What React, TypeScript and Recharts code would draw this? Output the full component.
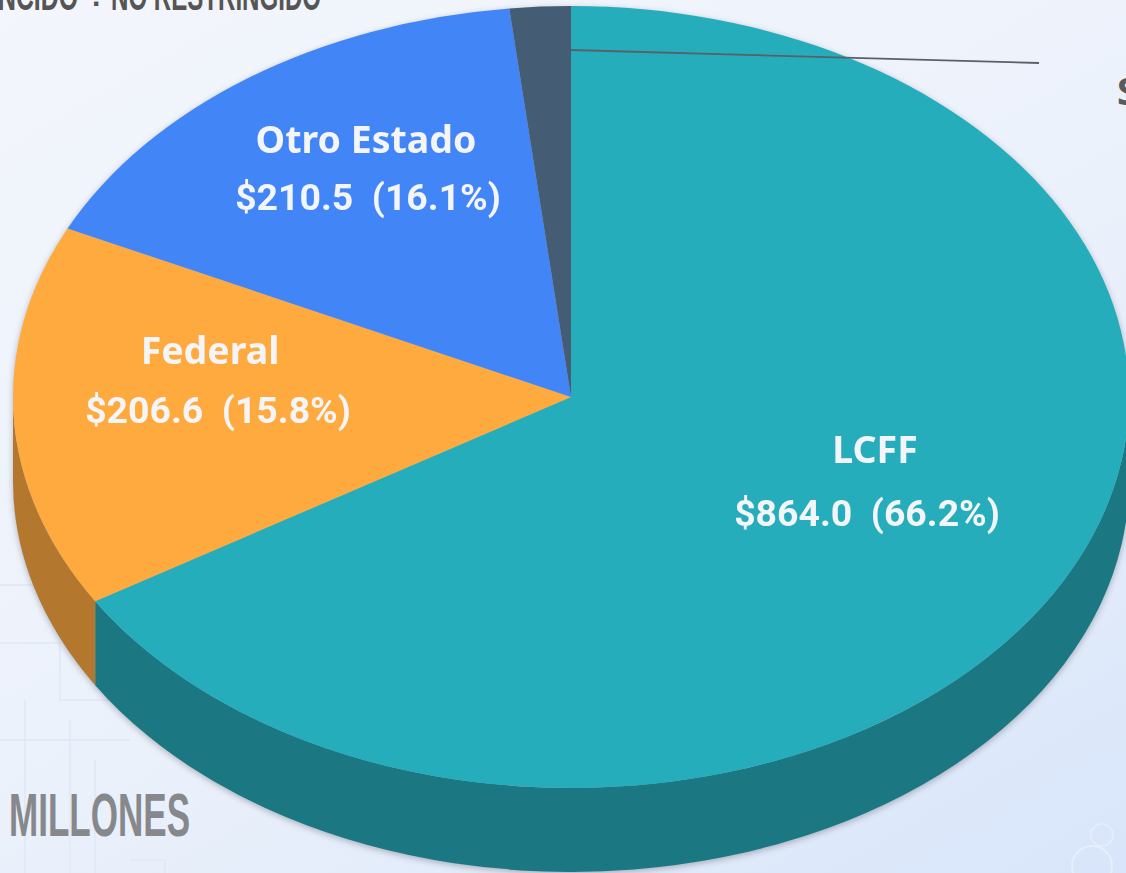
import { PieChart, Pie } from 'recharts';

const categories = ['LCFF', 'Federal', 'Otro Estado', 'S'];
const amounts = [864.0, 206.6, 210.5, 23.0];
const percents = ['66.2%', '15.8%', '16.1%', ''];
const topColors = ['#25adbc', '#ffaa3e', '#4285f7', '#445d75'];
const sideColors = ['#1b7883', '#b3782e', '#2f5fb0', '#2f4152'];
const labelNameAt = [[875, 463], [210, 364], [366, 153], [0, 0]];
const labelValueAt = [[867, 526], [218, 423], [368, 210], [0, 0]];

const tableData = categories.map((name, i) => ({
  name,
  value: amounts[i],
  percentText: percents[i],
  fill: topColors[i],
  side: sideColors[i],
}));

const CX = 571;
const CY = 397;
const RX = 558;
const RY = 391;
const DEPTH = 84;
const RAD = Math.PI / 180;
const NARROW = '"Liberation Sans Narrow", "Liberation Sans"';

const px = (a: number) => CX + RX * Math.cos(a * RAD);
const py = (a: number) => CY - RY * Math.sin(a * RAD);

function TopSlice(props: any) {
  const { startAngle, endAngle, payload, fill } = props;
  const large = Math.abs(startAngle - endAngle) > 180 ? 1 : 0;
  const d = `M${CX},${CY} L${px(startAngle)},${py(startAngle)} A${RX},${RY} 0 ${large} 1 ${px(endAngle)},${py(endAngle)} Z`;
  return <path d={d} fill={payload?.fill ?? fill} />;
}

function SideSlice(props: any) {
  const { startAngle, endAngle, payload } = props;
  const a = Math.min(startAngle, 0);
  const b = Math.max(endAngle, -180);
  if (a <= b) return null;
  const d = `M${px(a)},${py(a)} A${RX},${RY} 0 0 1 ${px(b)},${py(b)} L${px(b)},${py(b) + DEPTH} A${RX},${RY} 0 0 0 ${px(a)},${py(a) + DEPTH} Z`;
  return <path d={d} fill={payload?.side} />;
}

function SliceLabel(props: any) {
  const { index, name, value, percentText, payload } = props;
  const pct = percentText ?? payload?.percentText;
  if (!pct) return null;
  const label = name ?? payload?.name;
  const amount = (value ?? payload?.value).toFixed(1);
  return (
    <g>
      <text x={labelNameAt[index][0]} y={labelNameAt[index][1]} textAnchor="middle" fill="#f3f5f9" stroke="none"
        style={{ fontFamily: '"Noto Sans"', fontWeight: 700, fontSize: 37.5 }}>
        {label}
      </text>
      <text x={labelValueAt[index][0]} y={labelValueAt[index][1]} textAnchor="middle" fill="#f3f5f9" stroke="none"
        style={{ fontFamily: 'Roboto', fontWeight: 700, fontSize: 37.4, whiteSpace: 'pre' }}>
        {`$${amount}  (${pct})`}
      </text>
    </g>
  );
}

export default function App() {
  return (
    <div style={{
      position: 'absolute', left: 0, top: 0, width: 1126, height: 873, overflow: 'hidden',
      background: 'linear-gradient(150deg, #f3f6fc 0%, #ebf1fb 55%, #d8e5fa 100%)',
    }}>
      {/* faint blueprint marks behind the pie */}
      <svg width={1126} height={873} style={{ position: 'absolute', left: 0, top: 0 }}>
        <g fill="none" stroke="#dfe7f6" strokeWidth={1.5}>
          <path d="M0,585 H70 M0,643 H60 V700 H110 M0,740 H130 M25,700 V873 M70,720 V873 M95,760 V873 M130,860 H165 V873" />
          <circle cx={1092} cy={866} r={20} stroke="#e6eefb" strokeWidth={2} />
          <circle cx={978} cy={835} r={9} stroke="#dfe8f8" />
          <circle cx={1102} cy={835} r={11} stroke="#e6eefb" />
        </g>
      </svg>
      <div style={{ position: 'absolute', left: 0, top: 0, filter: 'drop-shadow(0 2px 3px rgba(60,60,70,0.35))' }}>
        <PieChart width={1126} height={873} margin={{ top: 0, right: 0, bottom: 0, left: 0 }}>
          <Pie data={tableData} dataKey="value" nameKey="name" cx={CX} cy={CY} outerRadius={RX} startAngle={90} endAngle={-270}
            stroke="none" isAnimationActive={false} shape={SideSlice} label={false} />
          <Pie data={tableData} dataKey="value" nameKey="name" cx={CX} cy={CY} outerRadius={RX} startAngle={90} endAngle={-270}
            stroke="none" isAnimationActive={false} shape={TopSlice} label={SliceLabel} labelLine={false} />
        </PieChart>
      </div>
      <svg width={1126} height={873} style={{ position: 'absolute', left: 0, top: 0 }}>
        <line x1={571} y1={50} x2={1039} y2={63} stroke="#5a6068" strokeWidth={1.8} />
        <text x={-2} y={10} fill="#555" textLength={80} lengthAdjust="spacingAndGlyphs"
          style={{ fontFamily: NARROW, fontWeight: 700, fontSize: 40 }}>
          NCIDO
        </text>
        <text x={92} y={14} fill="#555" style={{ fontFamily: NARROW, fontWeight: 700, fontSize: 30 }}>·</text>
        <text x={111} y={10} fill="#555" textLength={210} lengthAdjust="spacingAndGlyphs"
          style={{ fontFamily: NARROW, fontWeight: 700, fontSize: 40 }}>
          NO RESTRINGIDO
        </text>
        <text x={9} y={836} fill="#86888c" textLength={181} lengthAdjust="spacingAndGlyphs"
          style={{ fontFamily: NARROW, fontWeight: 700, fontSize: 62 }}>
          MILLONES
        </text>
        <text x={1117} y={105} fill="#5a5a5a" style={{ fontFamily: '"Noto Sans"', fontWeight: 700, fontSize: 38 }}>S</text>
      </svg>
    </div>
  );
}
